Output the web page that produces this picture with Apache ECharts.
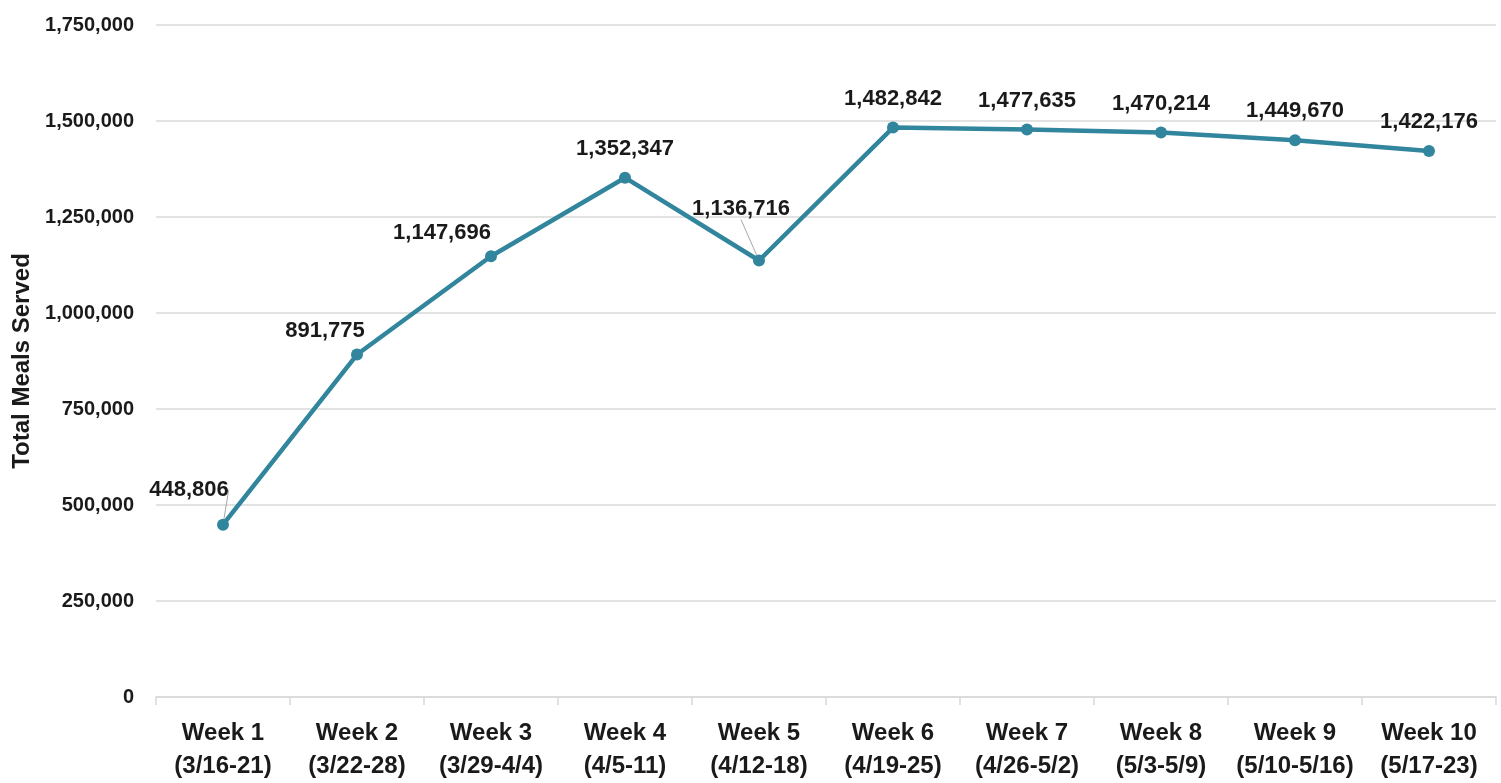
<!DOCTYPE html>
<html>
<head>
<meta charset="utf-8">
<script src="https://cdn.jsdelivr.net/npm/echarts@6/dist/echarts.min.js"></script>
<style>
  html, body { margin: 0; padding: 0; background: #fff; }
  #chart { width: 1501px; height: 783px; }
</style>
</head>
<body>
<div id="chart"></div>
<script>
// weekly totals
const weeks = ['Week 1', 'Week 2', 'Week 3', 'Week 4', 'Week 5',
  'Week 6', 'Week 7', 'Week 8', 'Week 9', 'Week 10'];
const weekDates = ['(3/16-21)', '(3/22-28)', '(3/29-4/4)', '(4/5-11)', '(4/12-18)',
  '(4/19-25)', '(4/26-5/2)', '(5/3-5/9)', '(5/10-5/16)', '(5/17-23)'];
const mealsServed = [448806, 891775, 1147696, 1352347, 1136716,
  1482842, 1477635, 1470214, 1449670, 1422176];
const yTicks = [0, 250000, 500000, 750000, 1000000, 1250000, 1500000, 1750000];

const FONT = 'Liberation Sans';
const TEXT_COLOR = '#1a1a1a';
const LINE_COLOR = '#31859C';
const GRID_COLOR = '#D9D9D9';

// labels that were dragged off the point in the original (with leader line)
const guideIdx = [0, 4];
const labelShift = { 0: [-34, -6], 1: [-32, 5], 2: [-49, 6], 4: [-18, -23] };

const categories = weeks.map((w, i) => w + '\n' + weekDates[i]);
const seriesData = mealsServed.map((v, i) => {
  if (guideIdx.indexOf(i) >= 0) {
    return { value: v, labelLine: { show: true } };
  }
  return v;
});

const fmt = (v) => Number(v).toLocaleString('en-US');

let myChart = echarts.init(document.getElementById('chart'));
let option = {
  animation: false,
  grid: {
    left: 156,
    right: 5,
    top: 25,
    bottom: 86,
    outerBoundsMode: 'none',
  },
  xAxis: {
    type: 'category',
    data: categories,
    boundaryGap: true,
    axisLine: { lineStyle: { color: GRID_COLOR, width: 1.5 } },
    axisTick: { show: true, length: 8, lineStyle: { color: GRID_COLOR, width: 1.5 } },
    axisLabel: {
      color: TEXT_COLOR,
      fontFamily: FONT,
      fontWeight: 'bold',
      fontSize: 24,
      lineHeight: 33,
      margin: 20,
      interval: 0,
    },
  },
  yAxis: {
    type: 'value',
    min: yTicks[0],
    max: yTicks[yTicks.length - 1],
    interval: 250000,
    name: 'Total Meals Served',
    nameLocation: 'middle',
    nameRotate: 90,
    nameGap: 122,
    nameTextStyle: {
      color: TEXT_COLOR,
      fontFamily: FONT,
      fontWeight: 'bold',
      fontSize: 24,
    },
    axisLine: { show: false },
    axisTick: { show: false },
    axisLabel: {
      color: TEXT_COLOR,
      fontFamily: FONT,
      fontWeight: 'bold',
      fontSize: 20,
      margin: 22,
      formatter: fmt,
    },
    splitLine: { lineStyle: { color: GRID_COLOR, width: 1.5 } },
  },
  series: [
    {
      type: 'line',
      data: seriesData,
      symbol: 'circle',
      symbolSize: 12,
      lineStyle: { color: LINE_COLOR, width: 4.5 },
      itemStyle: { color: LINE_COLOR },
      label: {
        show: true,
        position: 'top',
        distance: 12,
        color: TEXT_COLOR,
        fontFamily: FONT,
        fontWeight: 'bold',
        fontSize: 22,
        formatter: (p) => fmt(p.value),
      },
      labelLine: {
        show: false,
        lineStyle: { color: '#A6A6A6', width: 1 },
      },
      labelLayout: function (params) {
        const s = labelShift[params.dataIndex];
        return s ? { dx: s[0], dy: s[1] } : {};
      },
    },
  ],
};
myChart.setOption(option);
</script>
</body>
</html>
